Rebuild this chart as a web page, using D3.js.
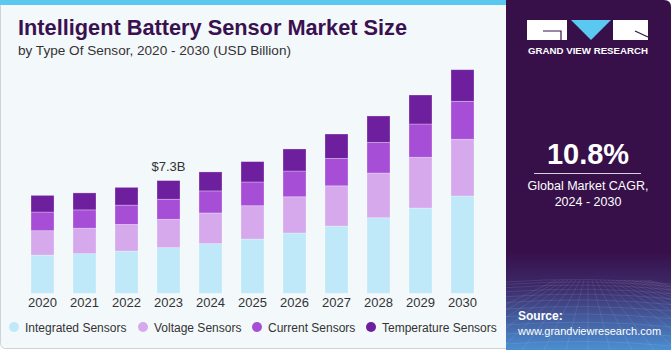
<!DOCTYPE html>
<html>
<head>
<meta charset="utf-8">
<script src="https://cdn.jsdelivr.net/npm/d3@7"></script>
<style>
  html, body { margin: 0; padding: 0; background: #ffffff; }
  svg { display: block; font-family: "Liberation Sans", Arial, sans-serif; }
</style>
</head>
<body>
<div id="chart"></div>
<script>
// values, USD billion
const years = ["2020", "2021", "2022", "2023", "2024", "2025", "2026", "2027", "2028", "2029", "2030"];
const integrated = [2.48, 2.57, 2.74, 2.96, 3.22, 3.52, 3.91, 4.36, 4.90, 5.53, 6.31];
const voltage = [1.58, 1.65, 1.73, 1.84, 1.99, 2.16, 2.35, 2.61, 2.90, 3.29, 3.68];
const current = [1.21, 1.19, 1.25, 1.30, 1.43, 1.54, 1.67, 1.78, 1.99, 2.16, 2.46];
const temperature = [1.08, 1.10, 1.15, 1.21, 1.23, 1.32, 1.43, 1.58, 1.71, 1.88, 2.05];
const seriesNames = ["Integrated Sensors", "Voltage Sensors", "Current Sensors", "Temperature Sensors"];
const seriesColors = ["#bfe9f9", "#d5a9ec", "#a64fd6", "#6d1f9d"];
const callout = { year: "2023", label: "$7.3B" };

const W = 671, H = 350;
const svg = d3.select("#chart").append("svg").attr("width", W).attr("height", H);

// left panel
svg.append("rect").attr("x", 0.5).attr("y", 0.5).attr("width", 512).attr("height", 348)
  .attr("rx", 5).attr("fill", "#f3f8fb").attr("stroke", "#cfd3d6");
svg.append("rect").attr("x", 0).attr("y", 0).attr("width", 508).attr("height", 5).attr("fill", "#5bc8f1");

// title
svg.append("text").attr("x", 18).attr("y", 35)
  .attr("textLength", 389).attr("lengthAdjust", "spacingAndGlyphs")
  .style("font-size", "22px").style("font-weight", "bold").attr("fill", "#3a1150")
  .text("Intelligent Battery Sensor Market Size");
svg.append("text").attr("x", 18).attr("y", 55)
  .attr("textLength", 273).attr("lengthAdjust", "spacingAndGlyphs")
  .style("font-size", "13.5px").attr("fill", "#333")
  .text("by Type Of Sensor, 2020 - 2030 (USD Billion)");

// chart
const x = d3.scaleBand().domain(years).range([10, 495]).paddingInner(0.452).paddingOuter(0.5);
const y = d3.scaleLinear().domain([0, 12]).range([293.3, 293.3 - 12 * 15.42]);

const rows = years.map((yr, i) => ({
  year: yr, s0: integrated[i], s1: voltage[i], s2: current[i], s3: temperature[i]
}));
const stack = d3.stack().keys(["s0", "s1", "s2", "s3"])(rows);

svg.append("g").selectAll("g").data(stack).join("g")
  .attr("fill", (d, i) => seriesColors[i])
  .selectAll("rect").data((d) => d).join("rect")
  .attr("x", (d) => x(d.data.year))
  .attr("y", (d) => y(d[1]))
  .attr("width", x.bandwidth())
  .attr("height", (d) => y(d[0]) - y(d[1]))
  .attr("stroke", "#ffffff").attr("stroke-opacity", 0.35).attr("stroke-width", 0.8);

// x axis labels
svg.append("g").selectAll("text").data(years).join("text")
  .attr("x", (d) => x(d) + x.bandwidth() / 2)
  .attr("y", 307)
  .attr("text-anchor", "middle")
  .style("font-size", "13px").attr("fill", "#333")
  .text((d) => d);

// callout
const ci = years.indexOf(callout.year);
const ctotal = integrated[ci] + voltage[ci] + current[ci] + temperature[ci];
svg.append("text")
  .attr("x", x(callout.year) + x.bandwidth() / 2)
  .attr("y", y(ctotal) - 10)
  .attr("text-anchor", "middle")
  .style("font-size", "13px").attr("fill", "#333")
  .text(callout.label);

// legend
const legendX = [14, 143, 257, 371];
const legend = svg.append("g").selectAll("g").data(seriesNames).join("g")
  .attr("transform", (d, i) => `translate(${legendX[i]},327)`);
legend.append("circle").attr("r", 5).attr("fill", (d, i) => seriesColors[i]);
legend.append("text").attr("x", 11).attr("y", 4.5)
  .style("font-size", "12px").attr("fill", "#333").text((d) => d);

// right panel
const defs = svg.append("defs");
const grad = defs.append("linearGradient").attr("id", "panelGrad")
  .attr("x1", 0).attr("y1", 0).attr("x2", 0).attr("y2", 1);
grad.append("stop").attr("offset", "0%").attr("stop-color", "#37104a");
grad.append("stop").attr("offset", "72%").attr("stop-color", "#37104a");
grad.append("stop").attr("offset", "82%").attr("stop-color", "#3d2a6a");
grad.append("stop").attr("offset", "100%").attr("stop-color", "#4a8fd2");
defs.append("clipPath").attr("id", "panelClip")
  .append("path").attr("d", `M506,0 H664 Q671,0 671,7 V350 H506 Z`);

const panel = svg.append("g").attr("clip-path", "url(#panelClip)");
panel.append("rect").attr("x", 506).attr("y", 0).attr("width", 165).attr("height", 350).attr("fill", "url(#panelGrad)");

// faint perspective grid at bottom
const gridG = panel.append("g").attr("stroke", "#ffffff").attr("stroke-opacity", 0.13).attr("stroke-width", 0.7).attr("fill", "none");
d3.range(0, 14).forEach((k) => {
  const yy = 282 + k * k * 0.42 + k * 2;
  gridG.append("path").attr("d", `M506,${yy} Q590,${yy - 6} 671,${yy + 2}`);
});
d3.range(-8, 16).forEach((k) => {
  gridG.append("line").attr("x1", 588 + k * 4).attr("y1", 280).attr("x2", 588 + k * 22).attr("y2", 350);
});

// logo
const logo = svg.append("g");
logo.append("rect").attr("x", 527).attr("y", 20).attr("width", 40).attr("height", 20).attr("fill", "#fff");
logo.append("path").attr("d", "M543,31 H561 V40").attr("stroke", "#37104a").attr("stroke-width", 1.2).attr("fill", "none");
logo.append("path").attr("d", "M571,20 H611 L591,40 Z").attr("fill", "#5bc8f1");
logo.append("rect").attr("x", 613).attr("y", 20).attr("width", 35).attr("height", 20).attr("fill", "#fff");
logo.append("path").attr("d", "M635,31 L648,37").attr("stroke", "#37104a").attr("stroke-width", 1.2);
logo.append("text").attr("x", 588).attr("y", 54).attr("text-anchor", "middle")
  .attr("textLength", 120).attr("lengthAdjust", "spacingAndGlyphs")
  .style("font-size", "8.5px").style("font-weight", "bold").attr("fill", "#fff")
  .text("GRAND VIEW RESEARCH");

// CAGR
svg.append("text").attr("x", 588).attr("y", 164).attr("text-anchor", "middle")
  .style("font-size", "29px").style("font-weight", "bold").attr("fill", "#fff").text("10.8%");
svg.append("line").attr("x1", 534).attr("x2", 641).attr("y1", 173.5).attr("y2", 173.5)
  .attr("stroke", "#ffffff").attr("stroke-opacity", 0.8);
svg.append("text").attr("x", 588).attr("y", 190).attr("text-anchor", "middle")
  .style("font-size", "12.5px").attr("fill", "#fff").text("Global Market CAGR,");
svg.append("text").attr("x", 588).attr("y", 206).attr("text-anchor", "middle")
  .style("font-size", "12.5px").attr("fill", "#fff").text("2024 - 2030");

// source
svg.append("text").attr("x", 518).attr("y", 320)
  .style("font-size", "12px").style("font-weight", "bold").attr("fill", "#fff").text("Source:");
svg.append("text").attr("x", 518).attr("y", 335)
  .style("font-size", "11px").attr("fill", "#fff").text("www.grandviewresearch.com");
</script>
</body>
</html>
